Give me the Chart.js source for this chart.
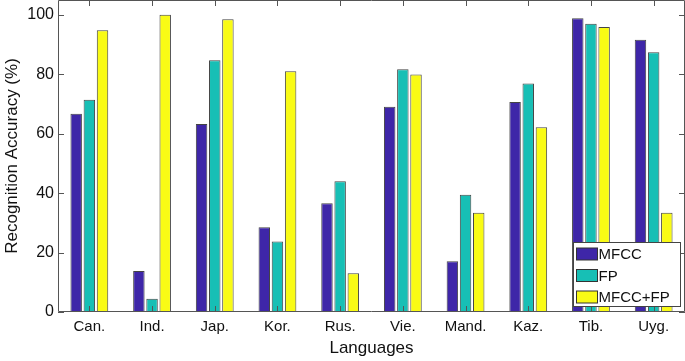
<!DOCTYPE html>
<html>
<head>
<meta charset="utf-8">
<script src="https://cdn.jsdelivr.net/npm/chart.js@4/dist/chart.umd.min.js"></script>
<style>
html,body{margin:0;padding:0;background:#fff;}
#wrap{position:relative;width:685px;height:361px;}
</style>
</head>
<body>
<div id="wrap"><canvas id="c" width="685" height="361"></canvas></div>
<script>
const categories = ["Can.", "Ind.", "Jap.", "Kor.", "Rus.", "Vie.", "Mand.", "Kaz.", "Tib.", "Uyg."];
const seriesNames = ["MFCC", "FP", "MFCC+FP"];
const mfcc   = [66.7, 13.8, 63.3, 28.5, 36.6, 69.1, 17.1, 70.7, 98.9, 91.6];
const fp     = [71.4, 4.5, 84.7, 23.7, 44.0, 81.7, 39.5, 76.9, 97.0, 87.4];
const mfccFp = [94.8, 100.0, 98.5, 81.0, 13.0, 79.9, 33.4, 62.2, 95.9, 33.4];
const yTicks = [0, 20, 40, 60, 80, 100];

const colors = ["#3E26A8", "#17BFB5", "#F9FB15"];
const FONT = "'Liberation Sans', Arial, sans-serif";
const AXIS = "#555555";

const framePlugin = {
  id: 'frame',
  afterDatasetsDraw(chart) {
    const ctx = chart.ctx, a = chart.chartArea;
    const x = chart.scales.x, y = chart.scales.y;
    ctx.save();
    ctx.strokeStyle = AXIS;
    ctx.lineWidth = 1;
    ctx.beginPath();
    ctx.rect(Math.round(a.left) + 0.5, Math.round(a.top) + 0.5, Math.round(a.right - a.left) - 1, Math.round(a.bottom - a.top) - 1);
    ctx.stroke();
    const tl = 6;
    ctx.beginPath();
    x.ticks.forEach((t, i) => {
      const px = Math.round(x.getPixelForTick(i)) + 0.5;
      ctx.moveTo(px, a.bottom); ctx.lineTo(px, a.bottom - tl);
      ctx.moveTo(px, a.top); ctx.lineTo(px, a.top + tl);
    });
    yTicks.forEach(v => {
      const py = Math.round(y.getPixelForValue(v)) + 0.5;
      ctx.moveTo(a.left, py); ctx.lineTo(a.left + tl, py);
      ctx.moveTo(a.right, py); ctx.lineTo(a.right - tl, py);
    });
    ctx.stroke();

    // legend
    const lx = 573.5, ly = 242.5, lw = 107, lh = 64;
    ctx.fillStyle = "#fff";
    ctx.fillRect(lx, ly, lw, lh);
    ctx.strokeStyle = "#444";
    ctx.strokeRect(lx, ly, lw, lh);
    ctx.font = "15px " + FONT;
    ctx.textBaseline = "middle";
    chart.data.datasets.forEach((ds, i) => {
      const cy = 254 + i * 21.5;
      ctx.fillStyle = ds.backgroundColor;
      ctx.fillRect(576.5, cy - 6, 21, 12);
      ctx.strokeStyle = "#333";
      ctx.strokeRect(576.5, cy - 6, 21, 12);
      ctx.fillStyle = "#111";
      ctx.fillText(ds.label, 598.5, cy + 1);
    });
    ctx.restore();
  }
};

new Chart(document.getElementById('c'), {
  type: 'bar',
  data: {
    labels: categories,
    datasets: [
      { label: seriesNames[0], data: mfcc, backgroundColor: colors[0] },
      { label: seriesNames[1], data: fp, backgroundColor: colors[1] },
      { label: seriesNames[2], data: mfccFp, backgroundColor: colors[2] }
    ].map(d => Object.assign(d, { borderColor: "#444", borderWidth: 1, categoryPercentage: 0.63, barPercentage: 0.87 }))
  },
  options: {
    responsive: false,
    animation: false,
    devicePixelRatio: 1,
    layout: { padding: { top: 0, right: 0, left: 0, bottom: 0 } },
    plugins: { legend: { display: false }, tooltip: { enabled: false } },
    scales: {
      x: {
        grid: { display: false, drawTicks: false },
        border: { display: false },
        ticks: { color: "#111", font: { family: FONT, size: 15 }, padding: 6, maxRotation: 0, autoSkip: false },
        title: { display: true, text: "Languages", color: "#111", font: { family: FONT, size: 17 }, padding: { top: 4, bottom: 2 } },
        afterFit(s) { s.height = 49; s.paddingLeft = 0; s.paddingRight = 0; }
      },
      y: {
        min: 0, max: 105,
        afterBuildTicks(s) { s.ticks = yTicks.map(v => ({ value: v })); },
        grid: { display: false, drawTicks: false },
        border: { display: false },
        ticks: { color: "#111", font: { family: FONT, size: 16 }, padding: 4 },
        title: { display: true, text: "Recognition Accuracy (%)", color: "#111", font: { family: FONT, size: 17 }, padding: { top: 2, bottom: 3 } },
        afterFit(s) { s.width = 58; s.paddingTop = 0; s.paddingBottom = 0; }
      }
    }
  },
  plugins: [framePlugin]
});
</script>
</body>
</html>
